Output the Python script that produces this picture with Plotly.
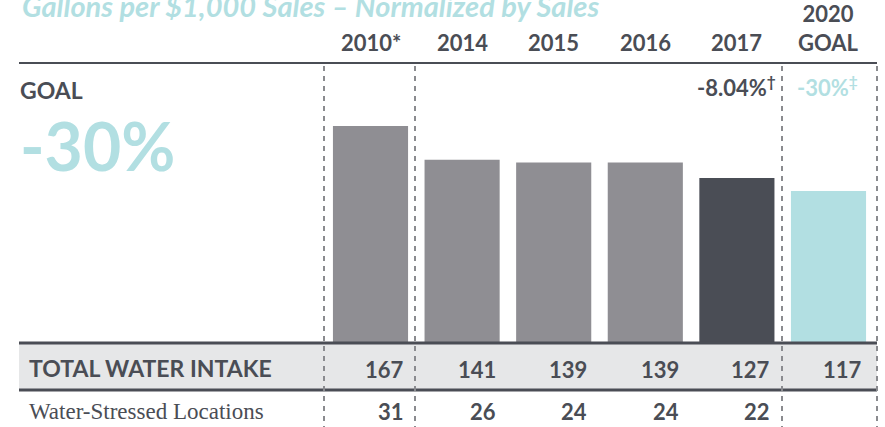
import plotly.graph_objects as go

# ---- data ----
years = ["2010*", "2014", "2015", "2016", "2017", "2020 GOAL"]
header_labels = ["2010*", "2014", "2015", "2016", "2017", "2020<br>GOAL"]
total_intake = [167, 141, 139, 139, 127, 117]
water_stressed = [31, 26, 24, 24, 22, None]
change_2017 = "-8.04%"
change_goal = "-30%"

W, H = 885, 427
DARK = "#4a4d55"
GREY_BAR = "#8f8e93"
TEAL = "#b2dfe2"
BAND = "#e6e7e8"
DASH = "#8a8b8f"

bar_colors = [GREY_BAR, GREY_BAR, GREY_BAR, GREY_BAR, DARK, TEAL]

# axis scaling: category step in pixels and value->pixel scale
step = 91.6
first_center = 370.5
base_px = 343.0
px_per_unit = 217.0 / 167.0

x_range = [-first_center / step, (W - first_center) / step]
y_range = [-(H - base_px) / px_per_unit, base_px / px_per_unit]


def px(xp):
    return xp / W


def py(yp):
    return 1 - yp / H


fig = go.Figure()
fig.add_trace(go.Bar(
    x=list(range(len(years))),
    y=total_intake,
    marker=dict(color=bar_colors, line=dict(width=0)),
    width=0.82,
    hoverinfo="skip",
))

shapes = []
# grey table band
shapes.append(dict(type="rect", xref="paper", yref="paper",
                   x0=px(19), x1=px(877), y0=py(390), y1=py(343),
                   fillcolor=BAND, line=dict(width=0), layer="above"))
# horizontal rules
for yy, w in [(63, 2), (343, 3), (390, 3)]:
    shapes.append(dict(type="line", xref="paper", yref="paper",
                       x0=px(19), x1=px(877), y0=py(yy), y1=py(yy),
                       line=dict(color=DARK, width=w), layer="above"))
# dashed separators
for xx in [324, 415, 782, 877]:
    shapes.append(dict(type="line", xref="paper", yref="paper",
                       x0=px(xx), x1=px(xx), y0=py(66), y1=py(427),
                       line=dict(color=DASH, width=2, dash="5px,5px"),
                       layer="above"))

ann = []
LATO = "Lato"
# title (partly cut at top edge)
ann.append(dict(text="<i>Gallons per $1,000 Sales – Normalized by Sales</i>",
                xref="paper", yref="paper", x=px(20), y=py(5),
                xanchor="left", yanchor="middle", showarrow=False,
                font=dict(family=LATO, size=29, color=TEAL, weight="bold")))
# column headers
for i, lab in enumerate(header_labels):
    ann.append(dict(text=lab, x=i, xref="x", yref="paper", y=py(58),
                    xanchor="center", yanchor="bottom", showarrow=False,
                    font=dict(family=LATO, size=22, color=DARK, weight="bold")))
# goal callout
ann.append(dict(text="GOAL", xref="paper", yref="paper", x=px(18), y=py(90),
                xanchor="left", yanchor="middle", showarrow=False,
                font=dict(family=LATO, size=23, color=DARK, weight="bold")))
ann.append(dict(text="-30%", xref="paper", yref="paper", x=px(18), y=py(146),
                xanchor="left", yanchor="middle", showarrow=False,
                font=dict(family=LATO, size=66, color=TEAL, weight="bold")))
ann.append(dict(text=change_2017 + "<sup>†</sup>", xref="paper", yref="paper",
                x=px(778), y=py(86), xanchor="right", yanchor="middle",
                showarrow=False,
                font=dict(family=LATO, size=22, color=DARK, weight="bold")))
ann.append(dict(text=change_goal + "<sup>‡</sup>", xref="paper", yref="paper",
                x=px(795), y=py(86), xanchor="left", yanchor="middle",
                showarrow=False,
                font=dict(family=LATO, size=22, color=TEAL, weight="bold")))
# table row labels
ann.append(dict(text="TOTAL WATER INTAKE", xref="paper", yref="paper",
                x=px(27), y=py(368), xanchor="left", yanchor="middle",
                showarrow=False,
                font=dict(family=LATO, size=23, color=DARK, weight="bold")))
ann.append(dict(text="Water-Stressed Locations", xref="paper", yref="paper",
                x=px(27), y=py(411), xanchor="left", yanchor="middle",
                showarrow=False,
                font=dict(family="Liberation Serif", size=23, color=DARK)))
# table values, right-aligned to each bar's right edge
for i, v in enumerate(total_intake):
    ann.append(dict(text=str(v), x=i + 0.41, xref="x", yref="paper",
                    y=py(369), xanchor="right", yanchor="middle",
                    xshift=-2, showarrow=False,
                    font=dict(family=LATO, size=22, color=DARK, weight="bold")))
for i, v in enumerate(water_stressed):
    if v is None:
        continue
    ann.append(dict(text=str(v), x=i + 0.41, xref="x", yref="paper",
                    y=py(411), xanchor="right", yanchor="middle",
                    xshift=-2, showarrow=False,
                    font=dict(family=LATO, size=22, color=DARK, weight="bold")))

fig.update_layout(
    width=W, height=H,
    margin=dict(l=0, r=0, t=0, b=0),
    paper_bgcolor="white", plot_bgcolor="white",
    showlegend=False,
    xaxis=dict(range=x_range, visible=False, fixedrange=True),
    yaxis=dict(range=y_range, visible=False, fixedrange=True),
    shapes=shapes,
    annotations=ann,
)

fig.write_html("out.html")
